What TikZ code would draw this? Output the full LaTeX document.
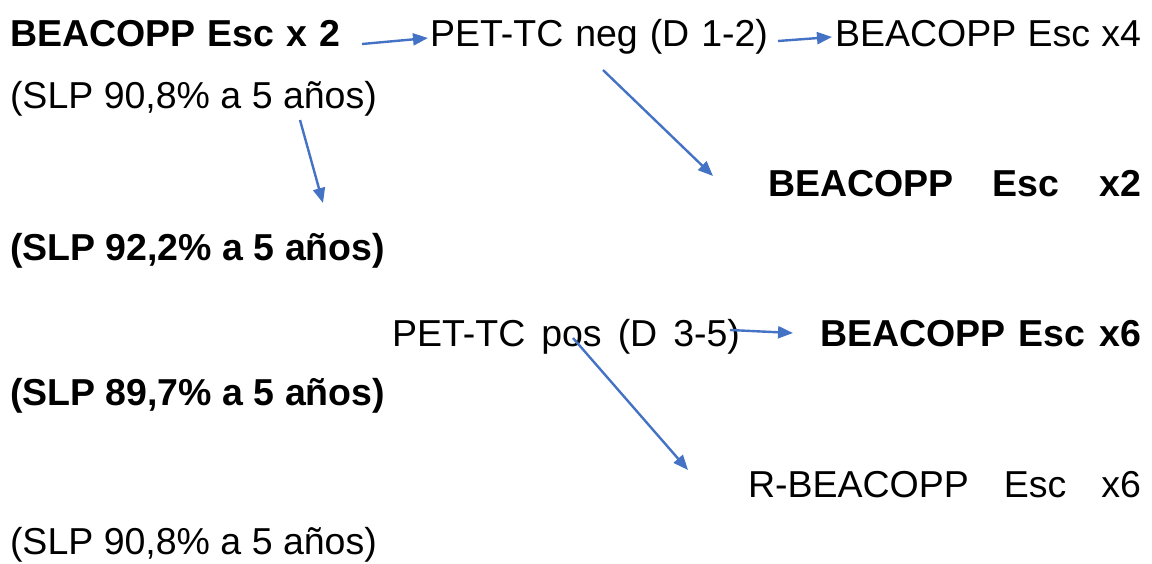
\documentclass[tikz,border=0pt]{standalone}
\usepackage{fontspec}
\setmainfont{Liberation Sans}
\usepackage{tikz}
\usetikzlibrary{arrows.meta}
\definecolor{arrowblue}{HTML}{4472C4}

% stretch the word spaces of a line to a given width
\newcommand{\spreadto}[2]{\makebox[#1][s]{#2}}

\begin{document}
\begin{tikzpicture}[
  x=1pt, y=-1pt,
  font=\fontsize{37.5}{44}\selectfont,
  txt/.style={inner sep=0pt, outer sep=0pt, anchor=base west},
  rtxt/.style={inner sep=0pt, outer sep=0pt, anchor=base east},
  strong/.style={font=\fontsize{37.5}{44}\selectfont\bfseries},
  arr/.style={-{Triangle[length=15pt, width=12pt]}, line width=2.4pt, arrowblue}
]
\useasboundingbox (0,0) rectangle (1152,563);

% first cycle and its two branches
\node (esc2) [txt, strong] at (10,46) {\spreadto{330pt}{BEACOPP Esc x 2}};
\node (petneg) [txt] at (430,46) {\spreadto{338pt}{PET-TC neg (D 1-2)}};
\node (esc4) [rtxt] at (1141,46) {\spreadto{306pt}{BEACOPP Esc x4}};
\node (slpA) [txt] at (10,108) {(SLP 90,8\% a 5 años)};
\node (esc2b) [rtxt, strong] at (1141,196) {\spreadto{373pt}{BEACOPP Esc x2}};
\node (slpB) [txt, strong] at (10,260) {(SLP 92,2\% a 5 años)};

% positive scan
\node (petpos) [txt] at (392,346) {\spreadto{348pt}{PET-TC pos (D 3-5)}};
\node (esc6) [rtxt, strong] at (1141,346) {\spreadto{321pt}{BEACOPP Esc x6}};
\node (slpC) [txt, strong] at (10,405) {(SLP 89,7\% a 5 años)};
\node (resc6) [rtxt] at (1141,497) {\spreadto{393pt}{R-BEACOPP Esc x6}};
\node (slpD) [txt] at (10,554) {(SLP 90,8\% a 5 años)};

\draw[arr] ([xshift=22pt, yshift=2pt]esc2.base east)
  -- ([xshift=-2pt, yshift=8pt]petneg.base west);
\draw[arr] ([xshift=10pt, yshift=5pt]petneg.base east)
  -- ([xshift=-3pt, yshift=9pt]esc4.base west);
\draw[arr] ([xshift=173pt, yshift=-24pt]petneg.base west)
  -- ([xshift=-55pt, yshift=20pt]esc2b.base west);
\draw[arr] ([xshift=290pt, yshift=-12pt]slpA.base west)
  -- ([xshift=313pt, yshift=57pt]slpB.base west);
\draw[arr] ([xshift=-10pt, yshift=16pt]petpos.base east)
  -- ([xshift=-27pt, yshift=13pt]esc6.base west);
\draw[arr] ([xshift=181pt, yshift=8pt]petpos.base west)
  -- ([xshift=-60pt, yshift=27pt]resc6.base west);
\end{tikzpicture}
\end{document}
